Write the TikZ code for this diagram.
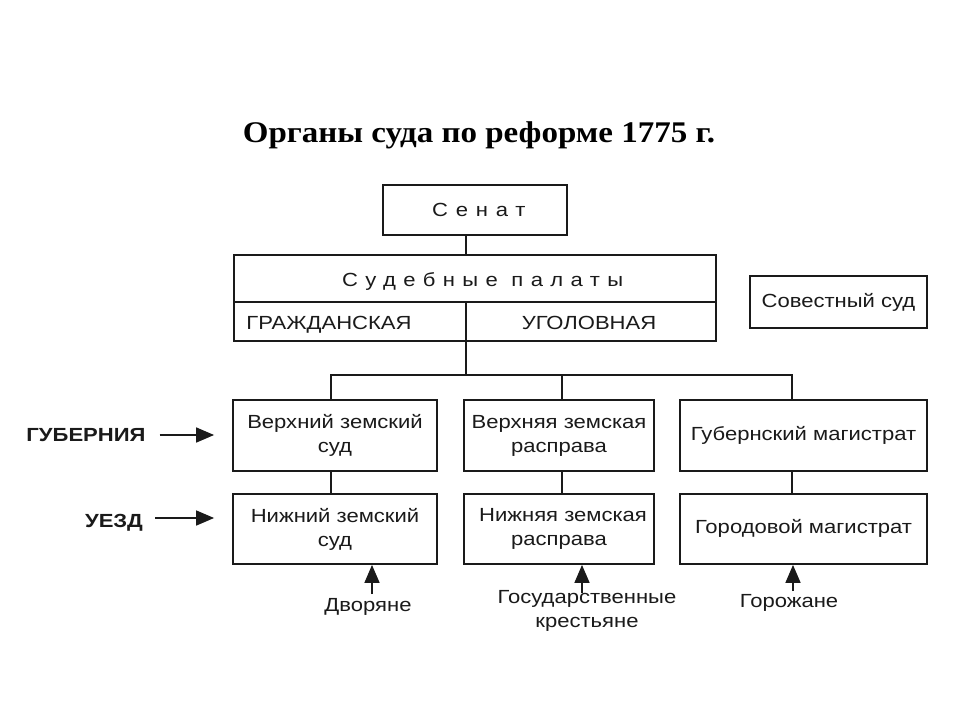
\documentclass[tikz,border=0pt]{standalone}
\usepackage{fontspec}
\setmainfont{Liberation Sans}[FakeStretch=1.16]
\newfontfamily\titlefont{Liberation Serif}[FakeStretch=1.1]
\newfontfamily\spacedfont{Liberation Sans}[FakeStretch=1.16,LetterSpace=41]
\usetikzlibrary{arrows.meta}
\definecolor{ink}{HTML}{1A1A1A}
\newcommand{\bodyfs}{\fontsize{19}{24}\selectfont}
\begin{document}
\begin{tikzpicture}[x=1pt,y=-1pt,
  box/.style={draw=ink, line width=1.8pt, inner sep=0pt, align=center, font=\bodyfs, text=ink},
  lbl/.style={inner sep=1pt, align=center, font=\bodyfs, text=ink},
  conn/.style={draw=ink, line width=1.4pt},
  arr/.style={draw=ink, line width=1.6pt, -{Triangle[length=18pt,width=15pt]}}]
\useasboundingbox[fill=white] (0,0) rectangle (960,720);

% title
\node[inner sep=0pt, font={\titlefont\bfseries\fontsize{30}{32}\selectfont}] (title) at (479,135) {Органы суда по реформе 1775 г.};

% top
\node[box, minimum width=184, minimum height=50, font={\spacedfont\fontsize{19}{22}\selectfont}] (senat) at (475,210) {\hspace{7.8pt}Сенат};
\node[box, minimum width=482, minimum height=86] (palaty) at (475,298) {};
\coordinate (mid) at (466,302);
\node[lbl, font={\spacedfont\fontsize{19}{22}\selectfont\addfontfeature{LetterSpace=39}}] (palatytxt) at (479,281) {\hspace{7.4pt}Судебные палаты};
\node[lbl, anchor=base] (grazhd) at (329,329) {ГРАЖДАНСКАЯ};
\node[lbl, anchor=base] (ugol) at (589,329) {УГОЛОВНАЯ};
\draw[conn] (palaty.west |- mid) -- (palaty.east |- mid);
\draw[conn] (mid) -- (palaty.south -| mid);
\draw[conn] (senat.south -| mid) -- (palaty.north -| mid);

\node[box, minimum width=177, minimum height=52] (sovest) at (838.5,302) {Совестный суд};

% level boxes
\node[box, minimum width=204, minimum height=71] (v1) at (335,435.5) {Верхний земский\\суд};
\node[box, minimum width=190, minimum height=71] (v2) at (559,435.5) {Верхняя земская\\расправа};
\node[box, minimum width=247, minimum height=71] (v3) at (803.5,435.5) {\raisebox{-2pt}{Губернский магистрат}};
\node[box, minimum width=204, minimum height=70] (n1) at (335,529) {Нижний земский\\суд};
\node[box, minimum width=190, minimum height=70] (n2) at (559,529) {\hspace{8pt}Нижняя земская\\расправа};
\node[box, minimum width=247, minimum height=70] (n3) at (803.5,529) {\raisebox{6pt}{Городовой магистрат}};

% bus
\coordinate (bus) at (466,375);
\coordinate (c1) at (331,0);
\coordinate (c2) at (562,0);
\coordinate (c3) at (792,0);
\draw[conn] (palaty.south -| mid) -- (bus);
\draw[conn] (v1.north -| c1) -- (c1 |- bus) -- (c3 |- bus) -- (v3.north -| c3);
\draw[conn] (c2 |- bus) -- (v2.north -| c2);
\draw[conn] (v1.south -| c1) -- (n1.north -| c1);
\draw[conn] (v2.south -| c2) -- (n2.north -| c2);
\draw[conn] (v3.south -| c3) -- (n3.north -| c3);

% left labels
\node[lbl, font={\bodyfs\bfseries}, anchor=base] (gub) at (86,441) {ГУБЕРНИЯ};
\node[lbl, font={\bodyfs\bfseries}, anchor=base] (uezd) at (114,527) {УЕЗД};
\draw[arr] ([xshift=13]gub.east |- 0,435) -- ([xshift=-18]v1.west |- 0,435);
\draw[arr] ([xshift=11]uezd.east |- 0,518) -- ([xshift=-18]n1.west |- 0,518);

% bottom labels
\coordinate (a1) at (372,0);
\coordinate (a2) at (582,0);
\coordinate (a3) at (793,0);
\node[lbl] (dvor) at (368,607) {Дворяне};
\node[lbl] (gos) at (587,610.5) {Государственные\\крестьяне};
\node[lbl] (gor) at (789,603) {Горожане};
\draw[arr] (a1 |- 0,594) -- (n1.south -| a1);
\draw[arr] (a2 |- 0,593) -- (n2.south -| a2);
\draw[arr] (a3 |- 0,591) -- (n3.south -| a3);
\end{tikzpicture}
\end{document}
